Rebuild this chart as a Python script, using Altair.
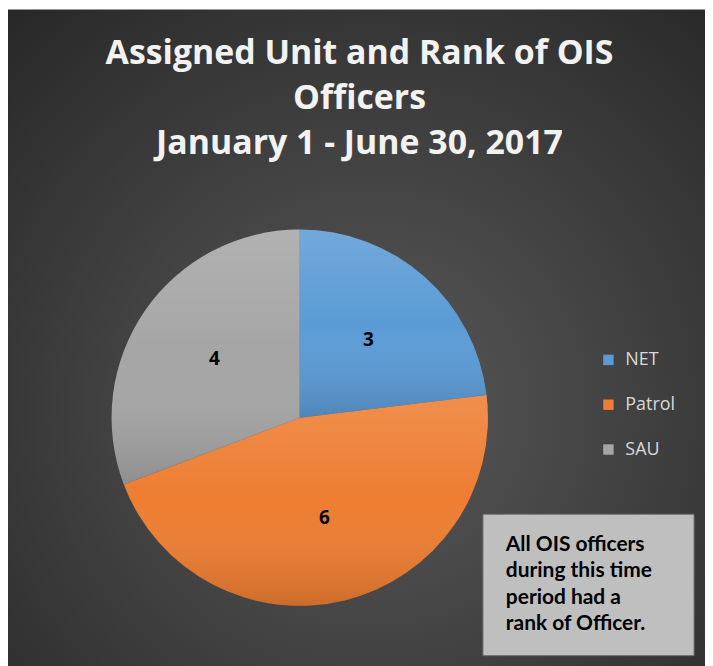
import altair as alt
import pandas as pd

categories = ["NET", "Patrol", "SAU"]
counts = [3, 6, 4]
colors = ["#5B9BD5", "#ED7D31", "#A5A5A5"]
title_lines = ["Assigned Unit and Rank of OIS", "Officers", "January 1 - June 30, 2017"]
note_lines = ["All OIS officers", "during this time", "period had a", "rank of Officer."]

W, H = 700, 661
CX, CY, R = 293, 410, 189

df = pd.DataFrame({"category": categories, "count": counts})
one = pd.DataFrame({"k": [0]})

bg = alt.Chart(one).mark_rect(
    fill=alt.RadialGradient(
        gradient="radial",
        stops=[alt.GradientStop(offset=0, color="#595959"),
               alt.GradientStop(offset=1, color="#262626")],
        x1=0.52, y1=0.6, r1=0, x2=0.52, y2=0.6, r2=0.8,
    )
).encode(x=alt.value(0), x2=alt.value(W), y=alt.value(0), y2=alt.value(H))

title = alt.Chart(one).mark_text(
    text=title_lines, font="Open Sans", fontSize=34, fontWeight="bold", color="#f2f2f2",
    lineHeight=45, align="center", baseline="alphabetic",
).encode(x=alt.value(353), y=alt.value(55))

theta = alt.Theta("count:Q", stack=True)
order = alt.Order("category:N", sort="ascending")

pie = alt.Chart(df).mark_arc(radius=R).encode(
    theta=theta,
    order=order,
    color=alt.Color(
        "category:N",
        scale=alt.Scale(domain=categories, range=colors),
        legend=alt.Legend(
            title=None, orient="none", legendX=594, legendY=343,
            symbolType="square", symbolSize=110, symbolStrokeWidth=0,
            labelFont="Open Sans", labelFontSize=18, labelColor="#d9d9d9",
            rowPadding=27, labelOffset=8, padding=0,
        ),
    ),
    x=alt.value(CX), y=alt.value(CY),
)

shade = alt.Chart(df).mark_arc(
    radius=R,
    fill=alt.LinearGradient(
        gradient="linear",
        stops=[alt.GradientStop(offset=0, color="rgba(255,255,255,0.14)"),
               alt.GradientStop(offset=0.5, color="rgba(255,255,255,0)"),
               alt.GradientStop(offset=1, color="rgba(0,0,0,0.14)")],
        x1=0, y1=0, x2=0, y2=1,
    ),
).encode(theta=theta, order=order, detail="category:N",
         x=alt.value(CX), y=alt.value(CY))

labels = alt.Chart(df).mark_text(
    radius=104, font="Open Sans", fontSize=19, fontWeight="bold", color="#000000",
).encode(theta=theta, order=order, detail="category:N", text="count:Q",
         x=alt.value(CX), y=alt.value(CY))

box = alt.Chart(one).mark_rect(fill="#bfbfbf", stroke="#6e6e6e", strokeWidth=1).encode(
    x=alt.value(477), x2=alt.value(689), y=alt.value(507), y2=alt.value(649)
)

note = alt.Chart(one).mark_text(
    text=note_lines, font="Lato", fontSize=21, fontWeight="bold", color="#000000",
    lineHeight=26.5, align="left", baseline="alphabetic",
).encode(x=alt.value(500), y=alt.value(544))

chart = alt.layer(bg, title, pie, shade, labels, box, note).properties(
    width=W, height=H, padding=0,
    autosize=alt.AutoSizeParams(type="fit", contains="padding"),
).configure_view(stroke=None)

chart.save("out.html", embed_options={"renderer": "svg", "actions": False})
